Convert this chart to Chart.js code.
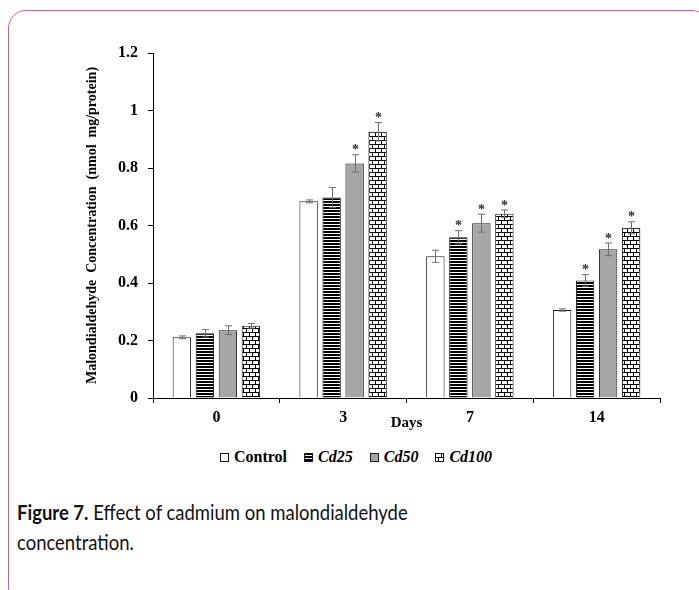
<!DOCTYPE html>
<html>
<head>
<meta charset="utf-8">
<script src="https://cdn.jsdelivr.net/npm/chart.js@4.4.0/dist/chart.umd.min.js"></script>
<style>
  html, body { margin: 0; padding: 0; background: #fff; }
  body { width: 699px; height: 590px; position: relative; overflow: hidden; }
  .card {
    position: absolute; left: 8px; top: 10px; width: 702px; height: 595px;
    border: 1.5px solid #c1639c; border-radius: 18px; box-sizing: border-box;
  }
  #chart { position: absolute; left: 0; top: 0; }
  .legend {
    position: absolute; left: 220px; top: 448px;
    font-family: 'Liberation Serif', serif; font-weight: bold; font-size: 16px;
    display: flex; align-items: center; color: #000;
  }
  .legend span.item { display: flex; align-items: center; margin-right: 17px; }
  .legend canvas { margin-right: 5px; }
  .legend .it { font-style: italic; }
  .caption {
    position: absolute; left: 17px; top: 497px; white-space: nowrap;
    font-family: 'Lato', sans-serif; font-size: 21px; line-height: 30px; color: #111;
    transform: scaleX(0.88); transform-origin: left top;
  }
</style>
</head>
<body>
<div class="card"></div>
<canvas id="chart" width="699" height="440"></canvas>
<div class="legend" id="legend"></div>
<div class="caption"><b>Figure 7.</b> Effect of cadmium on malondialdehyde<br>concentration.</div>
<script>
// valores
const days = ['0', '3', '7', '14'];
const yTicks = ['0', '0.2', '0.4', '0.6', '0.8', '1', '1.2'];

const control = [0.211, 0.684, 0.493, 0.306];
const controlErr = [0.005, 0.005, 0.021, 0.004];
const cd25 = [0.225, 0.697, 0.559, 0.409];
const cd25Err = [0.013, 0.035, 0.023, 0.020];
const cd50 = [0.236, 0.816, 0.608, 0.517];
const cd50Err = [0.015, 0.030, 0.031, 0.022];
const cd100 = [0.251, 0.926, 0.641, 0.592];
const cd100Err = [0.008, 0.032, 0.013, 0.021];

// asteriscos de significancia
const controlSig = [false, false, false, false];
const cd25Sig = [false, false, true, true];
const cd50Sig = [false, true, true, true];
const cd100Sig = [false, true, true, true];

const SERIF = "'Liberation Serif', 'Times New Roman', serif";

function stripePattern() {
  const c = document.createElement('canvas');
  c.width = 4; c.height = 3;
  const g = c.getContext('2d');
  g.fillStyle = '#fff'; g.fillRect(0, 0, 4, 3);
  g.fillStyle = '#000'; g.fillRect(0, 0, 4, 2);
  return g.createPattern(c, 'repeat');
}

function brickPattern() {
  const c = document.createElement('canvas');
  c.width = 12; c.height = 8;
  const g = c.getContext('2d');
  g.fillStyle = '#fff'; g.fillRect(0, 0, 12, 8);
  g.fillStyle = '#000';
  g.fillRect(0, 0, 12, 1);
  g.fillRect(0, 4, 12, 1);
  g.fillRect(0, 1, 1, 3);
  g.fillRect(6, 1, 1, 3);
  g.fillRect(3, 5, 1, 3);
  g.fillRect(9, 5, 1, 3);
  return g.createPattern(c, 'repeat');
}

const series = [
  { label: 'Control', data: control, err: controlErr, sig: controlSig, fill: '#ffffff', italic: false },
  { label: 'Cd25', data: cd25, err: cd25Err, sig: cd25Sig, fill: stripePattern(), italic: true },
  { label: 'Cd50', data: cd50, err: cd50Err, sig: cd50Sig, fill: '#a6a6a6', italic: true },
  { label: 'Cd100', data: cd100, err: cd100Err, sig: cd100Sig, fill: brickPattern(), italic: true }
];

// barras de error y asteriscos
const errorBars = {
  id: 'errorBars',
  afterDatasetsDraw(chart) {
    const ctx = chart.ctx;
    const y = chart.scales.y;
    ctx.save();
    chart.data.datasets.forEach((ds, i) => {
      const meta = chart.getDatasetMeta(i);
      meta.data.forEach((bar, j) => {
        const v = ds.data[j], e = ds.err[j];
        const top = y.getPixelForValue(v + e);
        const bot = y.getPixelForValue(v - e);
        const x = Math.round(bar.x) + 0.5;
        ctx.strokeStyle = '#6e6e6e';
        ctx.lineWidth = 1;
        ctx.beginPath();
        ctx.moveTo(x, top); ctx.lineTo(x, bot);
        ctx.moveTo(x - 3.5, top); ctx.lineTo(x + 3.5, top);
        ctx.moveTo(x - 3.5, bot); ctx.lineTo(x + 3.5, bot);
        ctx.stroke();
        if (ds.sig[j]) {
          ctx.fillStyle = '#333';
          ctx.font = 'bold 14px ' + SERIF;
          ctx.textAlign = 'center';
          ctx.textBaseline = 'middle';
          ctx.fillText('*', x, top - 4);
        }
      });
    });
    ctx.restore();
  }
};

const chart = new Chart(document.getElementById('chart'), {
  type: 'bar',
  data: {
    labels: days,
    datasets: series.map(s => ({
      label: s.label,
      data: s.data,
      err: s.err,
      sig: s.sig,
      backgroundColor: s.fill,
      borderColor: '#1a1a1a',
      borderWidth: 1,
      borderSkipped: 'bottom',
      categoryPercentage: 0.726,
      barPercentage: 0.8
    }))
  },
  options: {
    responsive: false,
    animation: false,
    layout: { padding: { left: 78, right: 39, top: 53, bottom: 0 } },
    plugins: {
      legend: { display: false },
      tooltip: { enabled: false }
    },
    scales: {
      x: {
        afterFit(scale) { scale.height = 42; },
        grid: { drawOnChartArea: false, drawTicks: true, tickLength: 5, color: '#000' },
        border: { display: true, color: '#000', width: 1 },
        ticks: { color: '#000', padding: 5, font: { family: SERIF, weight: 'bold', size: 16 } },
        title: {
          display: true, text: 'Days', color: '#000',
          font: { family: SERIF, weight: 'bold', size: 15 },
          padding: { top: 0, bottom: 8 }
        }
      },
      y: {
        min: 0, max: 1.2,
        afterFit(scale) { scale.width = 75; },
        grid: { drawOnChartArea: false, drawTicks: true, tickLength: 5, color: '#000' },
        border: { display: true, color: '#000', width: 1 },
        ticks: {
          stepSize: 0.2, color: '#000', padding: 10,
          font: { family: SERIF, weight: 'bold', size: 16 },
          callback: (v, i) => yTicks[i]
        },
        title: {
          display: true, text: 'Malondialdehyde  Concentration  (nmol  mg/protein)', color: '#000',
          font: { family: SERIF, weight: 'bold', size: 14 },
          padding: { top: 6, bottom: 0 }
        }
      }
    }
  },
  plugins: [errorBars]
});

// leyenda en HTML (itálicas por serie)
const legend = document.getElementById('legend');
chart.data.datasets.forEach((ds, i) => {
  const item = document.createElement('span');
  item.className = 'item';
  const sw = document.createElement('canvas');
  sw.width = 9; sw.height = 9;
  const g = sw.getContext('2d');
  g.fillStyle = ds.backgroundColor;
  g.fillRect(0, 0, 9, 9);
  g.strokeStyle = '#1a1a1a';
  g.lineWidth = 1;
  g.strokeRect(0.5, 0.5, 8, 8);
  const txt = document.createElement('span');
  txt.textContent = ds.label;
  if (series[i].italic) txt.className = 'it';
  item.appendChild(sw);
  item.appendChild(txt);
  legend.appendChild(item);
});
</script>
</body>
</html>
